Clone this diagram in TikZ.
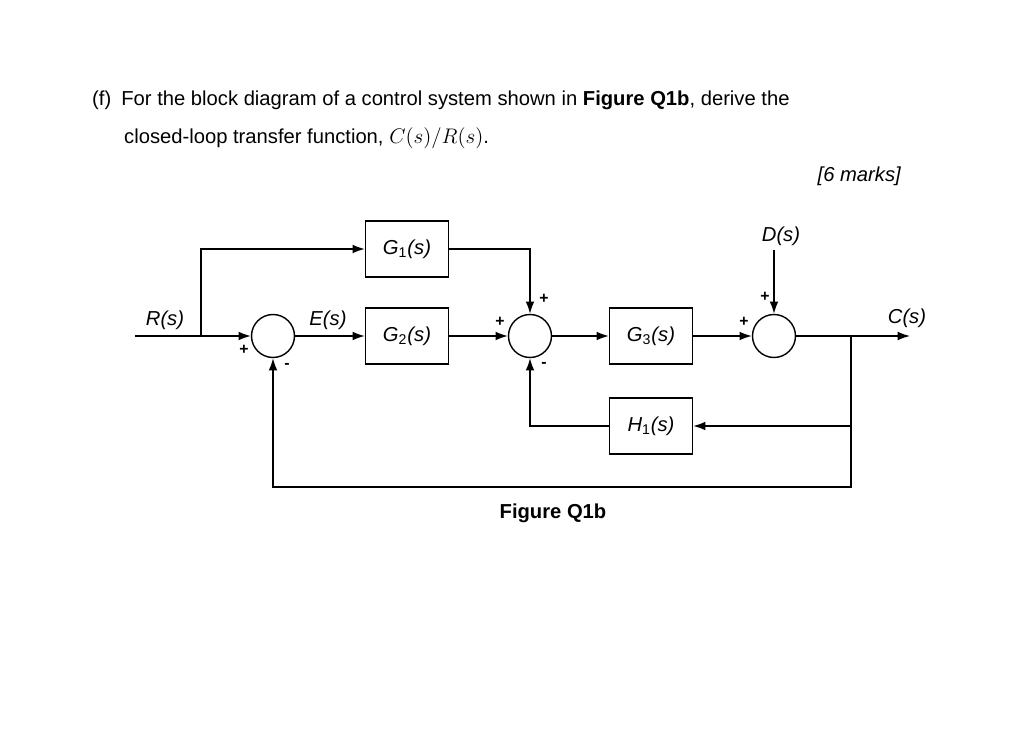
\documentclass[tikz,border=0pt]{standalone}
\usepackage{fontspec}
\setmainfont{Liberation Sans}
\usetikzlibrary{arrows.meta}
\tikzset{
  blk/.style={draw,thick,minimum width=1.66cm,minimum height=1.12cm,inner sep=0pt},
  sumnode/.style={draw,thick,circle,minimum size=0.86cm,inner sep=0pt},
  sig/.style={thick,-{Latex[length=7pt,width=5pt]}},
  sgn/.style={font=\bfseries\small}
}
\begin{document}
\begin{tikzpicture}[x=0.02cm,y=-0.02cm,font=\fontsize{11.5}{14}\selectfont]
			\useasboundingbox (0,0) rectangle (1022,733);
			% question text
			\node[anchor=west] (qf) at (86,100) {(f)\enspace For the block diagram of a control system shown in \textbf{Figure Q1b}, derive the};
			\node[anchor=west] (qg) at (118,138) {closed-loop transfer function, $C(s)/R(s)$.};
			\node[anchor=east] (marks) at (907,176) {\itshape [6 marks]};
			% blocks
			\node[blk] (g1) at (407,249) {\itshape G\textsubscript{\upshape 1}(s)};
			\node[blk] (g2) at (407,336) {\itshape G\textsubscript{\upshape 2}(s)};
			\node[blk] (g3) at (651,336) {\itshape G\textsubscript{\upshape 3}(s)};
			\node[blk] (h1) at (651,426) {\itshape H\textsubscript{\upshape 1}(s)};
			\node[sumnode] (s1) at (273,336) {};
			\node[sumnode] (s2) at (530,336) {};
			\node[sumnode] (s3) at (774,336) {};
			% free ends
			\coordinate (rin) at (135,336);
			\coordinate (rb) at (201,336);
			\coordinate (din) at (774,250);
			\coordinate (cb) at (851,336);
			\coordinate (cout) at (910,336);
			% signals
			\draw[thick] (rin) -- (rb);
			\draw[sig] (rb) -- (s1);
			\draw[sig] (rb) |- (g1);
			\draw[sig] (g1) -| (s2);
			\draw[sig] (s1) -- (g2);
			\draw[sig] (g2) -- (s2);
			\draw[sig] (s2) -- (g3);
			\draw[sig] (g3) -- (s3);
			\draw[sig] (din) -- (s3);
			\draw[sig] (s3) -- (cout);
			\draw[sig] (cb) |- (h1);
			\draw[sig] (h1) -| (s2);
			\draw[sig] (cb) -- (851,487) -| (s1);
			% labels
			\node (rl) at (165,320) {\itshape R(s)};
			\node (el) at (328,320) {\itshape E(s)};
			\node (dl) at (781,236) {\itshape D(s)};
			\node (cl) at (907,318) {\itshape C(s)};
			\node[sgn] (p1) at (244,350) {+};
			\node[sgn] (m1) at (287,366) {-};
			\node[sgn] (p2) at (500,322) {+};
			\node[sgn] (p3) at (544,299) {+};
			\node[sgn] (m2) at (544,365) {-};
			\node[sgn] (p4) at (744,322) {+};
			\node[sgn] (p5) at (765,297) {+};
			\node[font=\bfseries\fontsize{11.5}{14}\selectfont] (fig) at (553,513) {Figure Q1b};
		\end{tikzpicture}
\end{document}
